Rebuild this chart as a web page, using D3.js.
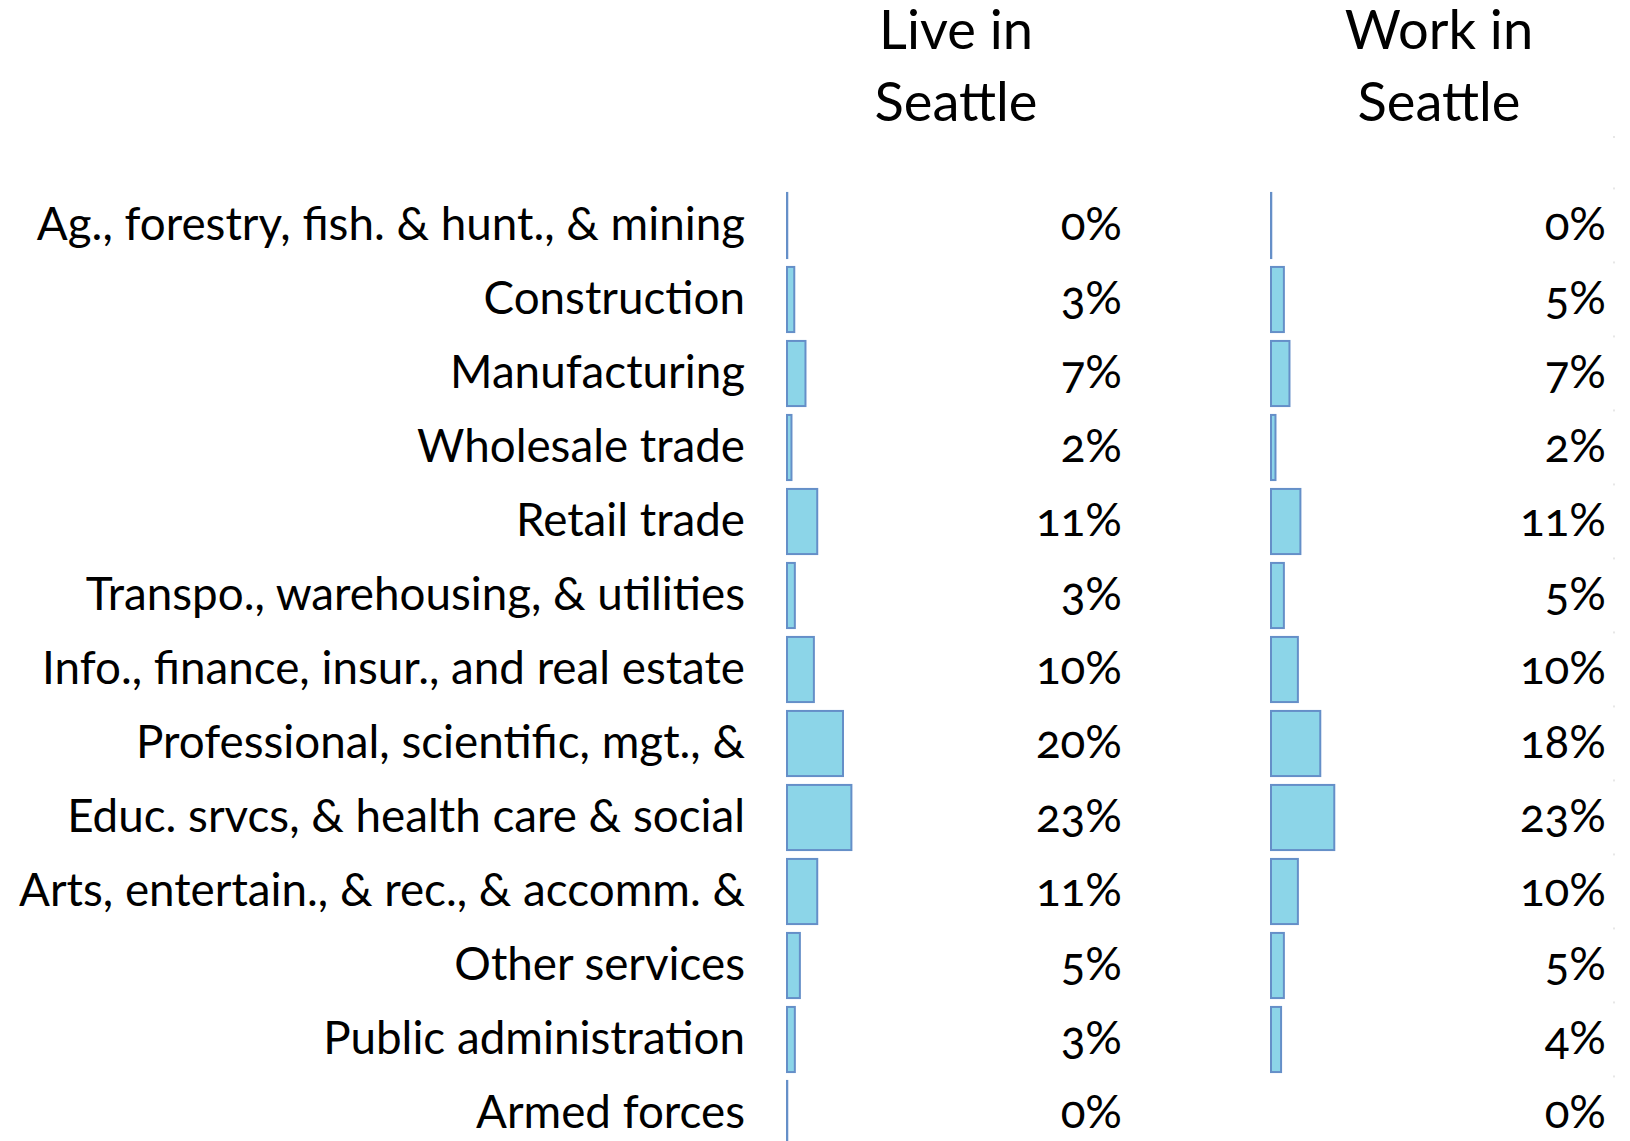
<!DOCTYPE html>
<html>
<head>
<meta charset="utf-8">
<script src="https://cdn.jsdelivr.net/npm/d3@7"></script>
<style>
  html, body { margin: 0; padding: 0; background: #ffffff; }
  svg { display: block; }
  text { font-family: Lato, "Open Sans", sans-serif; fill: #000; }
  text.val { font-variant-numeric: oldstyle-nums; }
</style>
</head>
<body>
<svg id="chart" width="1630" height="1141"></svg>
<script>
// ---- data ----
const categories = [
  "Ag., forestry, fish. & hunt., & mining",
  "Construction",
  "Manufacturing",
  "Wholesale trade",
  "Retail trade",
  "Transpo., warehousing, & utilities",
  "Info., finance, insur., and real estate",
  "Professional, scientific, mgt., &",
  "Educ. srvcs, & health care & social",
  "Arts, entertain., & rec., & accomm. &",
  "Other services",
  "Public administration",
  "Armed forces"
];
const liveValues = [0.1, 2.6, 6.6, 1.6, 10.8, 2.8, 9.6, 20.0, 23.0, 10.8, 4.6, 2.8, 0.1];
const workValues = [0.1, 4.6, 6.6, 1.6, 10.5, 4.6, 9.6, 17.6, 22.6, 9.6, 4.6, 3.6, 0.0];
const liveLabels = ["0%", "3%", "7%", "2%", "11%", "3%", "10%", "20%", "23%", "11%", "5%", "3%", "0%"];
const workLabels = ["0%", "5%", "7%", "2%", "11%", "5%", "10%", "18%", "23%", "10%", "5%", "4%", "0%"];
const headerLive = ["Live in", "Seattle"];
const headerWork = ["Work in", "Seattle"];

// ---- layout ----
const svg = d3.select("#chart");
const fillColor = "#8cd5e8";
const strokeColor = "#658fc8";

const y = d3.scaleBand()
  .domain(categories)
  .range([188.5, 188.5 + 13 * 74])
  .paddingInner(0.12)
  .paddingOuter(0.06);

const x = d3.scaleLinear().domain([0, 25]).range([0, 70]);

const columns = [
  { values: liveValues, labels: liveLabels, barX: 787, labelX: 1122, header: headerLive, headerX: 956 },
  { values: workValues, labels: workLabels, barX: 1271, labelX: 1606, header: headerWork, headerX: 1439 }
];

// faint cell-border dots at the right edge
const dotYs = [137].concat(categories.map(c => y(c) - 4.5));
svg.selectAll("rect.dot").data(dotYs).enter().append("rect")
  .attr("class", "dot")
  .attr("x", 1613.5).attr("y", d => d - 1)
  .attr("width", 1).attr("height", 2)
  .attr("fill", "#cfcfcf");

// helper: fit font size to a target width
function fitSize(texts, targetWidth, base) {
  const t = svg.append("text").style("font-size", base + "px");
  let maxW = 0;
  texts.forEach(s => { t.text(s); maxW = Math.max(maxW, t.node().getComputedTextLength()); });
  t.remove();
  return base * targetWidth / maxW;
}

const catSize = fitSize([categories[9]], 726, 45);
const pctSize = catSize;
const headSize = fitSize(["Seattle"], 163, 53);

// category labels
svg.append("g").selectAll("text").data(categories).enter().append("text")
  .attr("x", 745)
  .attr("y", d => y(d) + y.bandwidth() / 2 + 14.5)
  .attr("text-anchor", "end")
  .style("font-size", catSize + "px")
  .text(d => d);

columns.forEach(col => {
  const g = svg.append("g");
  // header
  g.selectAll("text.head").data(col.header).enter().append("text")
    .attr("class", "head")
    .attr("x", col.headerX)
    .attr("y", (d, i) => 49 + i * 72)
    .attr("text-anchor", "middle")
    .style("font-size", headSize + "px")
    .text(d => d);
  // bars
  g.selectAll("rect.bar").data(categories.map((c, i) => ({ c, v: col.values[i] })).filter(d => d.v > 0))
    .enter().append("rect")
    .attr("class", "bar")
    .attr("x", col.barX)
    .attr("y", d => y(d.c))
    .attr("width", d => x(d.v))
    .attr("height", y.bandwidth())
    .attr("fill", fillColor)
    .attr("stroke", strokeColor)
    .attr("stroke-width", 2);
  // value labels
  g.selectAll("text.val").data(categories.map((c, i) => ({ c, t: col.labels[i] })))
    .enter().append("text")
    .attr("class", "val")
    .attr("x", col.labelX)
    .attr("y", d => y(d.c) + y.bandwidth() / 2 + 14.5)
    .attr("text-anchor", "end")
    .style("font-size", pctSize + "px")
    .text(d => d.t);
});
</script>
</body>
</html>
